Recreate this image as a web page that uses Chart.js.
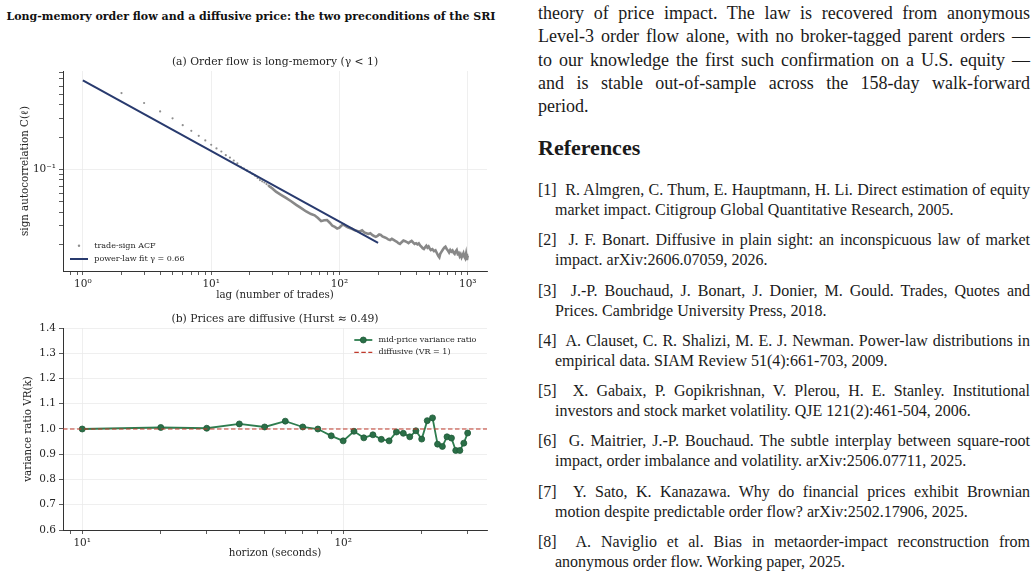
<!DOCTYPE html>
<html>
<head>
<meta charset="utf-8">
<script src="https://cdn.jsdelivr.net/npm/chart.js@4.4.1/dist/chart.umd.min.js"></script>
<style>
    html, body { margin: 0; padding: 0; background: #fff; }
    body { width: 1036px; height: 580px; position: relative; overflow: hidden; }
    #figTitle { position: absolute; left: 0; top: 9.5px; width: 502px; text-align: center;
        font: bold 11px/13px "DejaVu Serif", serif; color: #111; white-space: nowrap; }
    #cA { position: absolute; left: 0; top: 0; }
    #cB { position: absolute; left: 0; top: 300px; }
    #col { position: absolute; left: 538px; top: 2px; width: 492px;
        font-family: "Liberation Serif", "Times New Roman", serif; color: #1a1a1a; }
    .pl { font-size: 18px; line-height: 23.35px; height: 23.35px;
        text-align: justify; text-align-last: justify; }
    .pl.last { text-align-last: left; }
    h2 { position: absolute; left: 0; top: 133px; margin: 0; font-size: 22px; line-height: 26px; font-weight: bold; }
    #refs { position: absolute; left: 0; top: 178px; width: 492px; }
    .ref { font-size: 16px; line-height: 20px; margin-bottom: 10.3px; }
    .ref .a { text-align: justify; text-align-last: justify; height: 20px; }
    .ref .b { padding-left: 17px; height: 20px; }
</style>
</head>
<body>
<div id="figTitle">Long-memory order flow and a diffusive price: the two preconditions of the SRI</div>
<canvas id="cA" width="520" height="305"></canvas>
<canvas id="cB" width="520" height="280"></canvas>

<div id="col">
    <div class="pl">theory of price impact. The law is recovered from anonymous</div>
    <div class="pl">Level-3 order flow alone, with no broker-tagged parent orders —</div>
    <div class="pl">to our knowledge the first such confirmation on a U.S. equity —</div>
    <div class="pl">and is stable out-of-sample across the 158-day walk-forward</div>
    <div class="pl last">period.</div>
    <h2>References</h2>
    <div id="refs">
        <div class="ref"><div class="a">[1]&nbsp; R. Almgren, C. Thum, E. Hauptmann, H. Li. Direct estimation of equity</div><div class="b">market impact. Citigroup Global Quantitative Research, 2005.</div></div>
        <div class="ref"><div class="a">[2]&nbsp; J. F. Bonart. Diffusive in plain sight: an inconspicuous law of market</div><div class="b">impact. arXiv:2606.07059, 2026.</div></div>
        <div class="ref"><div class="a">[3]&nbsp; J.-P. Bouchaud, J. Bonart, J. Donier, M. Gould. Trades, Quotes and</div><div class="b">Prices. Cambridge University Press, 2018.</div></div>
        <div class="ref"><div class="a">[4]&nbsp; A. Clauset, C. R. Shalizi, M. E. J. Newman. Power-law distributions in</div><div class="b">empirical data. SIAM Review 51(4):661-703, 2009.</div></div>
        <div class="ref"><div class="a">[5]&nbsp; X. Gabaix, P. Gopikrishnan, V. Plerou, H. E. Stanley. Institutional</div><div class="b">investors and stock market volatility. QJE 121(2):461-504, 2006.</div></div>
        <div class="ref"><div class="a">[6]&nbsp; G. Maitrier, J.-P. Bouchaud. The subtle interplay between square-root</div><div class="b">impact, order imbalance and volatility. arXiv:2506.07711, 2025.</div></div>
        <div class="ref"><div class="a">[7]&nbsp; Y. Sato, K. Kanazawa. Why do financial prices exhibit Brownian</div><div class="b">motion despite predictable order flow? arXiv:2502.17906, 2025.</div></div>
        <div class="ref"><div class="a">[8]&nbsp; A. Naviglio et al. Bias in metaorder-impact reconstruction from</div><div class="b">anonymous order flow. Working paper, 2025.</div></div>
    </div>
</div>

<script>
// (a) trade-sign autocorrelation, short lags drawn as separate dots
const lagDots = [2, 3, 4, 5, 6, 7, 8, 9, 10, 11, 12, 13, 14, 15, 16, 17, 18, 19, 20, 21, 22, 23, 24, 25, 26, 27, 28, 29];
const acfDots = [0.516, 0.417, 0.348, 0.300, 0.259, 0.2295, 0.206, 0.1866, 0.170, 0.157, 0.147, 0.136, 0.129, 0.121,
    0.114, 0.106, 0.102, 0.098, 0.0945, 0.0908, 0.0875, 0.0832, 0.0795, 0.0774, 0.0755, 0.073, 0.0705, 0.0685];

// longer lags, where the dots merge into a noisy band
const lagDense = [28, 30, 32, 35, 38, 42, 46, 50, 55, 60, 64, 68, 72, 76, 80, 84, 88, 92, 96, 100, 104, 108, 112, 116, 120,
    126, 132, 138, 144, 150, 156, 162, 168, 174, 180, 186, 192, 198, 204, 210, 216, 224, 232, 240, 248, 256, 264, 272, 280,
    288, 296, 305, 315, 325, 335, 345, 355, 365, 375, 385, 395, 405, 415, 425, 435, 445, 455, 465, 475, 485, 495, 505, 515,
    530, 545, 560, 575, 590, 600, 610, 625, 640, 655, 670, 685, 700, 715, 730, 745, 760, 775, 790, 805, 820, 835, 850, 865,
    880, 895, 910, 925, 940, 955, 970, 985, 1000];
const acfDense = [0.0705, 0.0665, 0.062, 0.058, 0.0545, 0.0505, 0.0467, 0.0438, 0.0405, 0.0383, 0.0373, 0.0352, 0.0329,
    0.0335, 0.0337, 0.0318, 0.0298, 0.0291, 0.0281, 0.0286, 0.0301, 0.0305, 0.0295, 0.0288, 0.0284, 0.0278, 0.0270, 0.0266,
    0.0264, 0.0270, 0.0258, 0.0254, 0.0250, 0.0254, 0.0245, 0.0239, 0.0235, 0.0240, 0.0247, 0.0245, 0.0237, 0.0233, 0.0229,
    0.0222, 0.0219, 0.0225, 0.0220, 0.0215, 0.0211, 0.0205, 0.0202, 0.0209, 0.0217, 0.0214, 0.0210, 0.0205, 0.0211, 0.0215,
    0.0208, 0.0202, 0.0205, 0.0200, 0.0204, 0.0195, 0.0190, 0.0184, 0.0181, 0.0188, 0.0194, 0.0186, 0.0191, 0.0183, 0.0177,
    0.0180, 0.0173, 0.0176, 0.0165, 0.0155, 0.0151, 0.0163, 0.0171, 0.0179, 0.0186, 0.0190, 0.0181, 0.0175, 0.0168, 0.0177,
    0.0171, 0.0175, 0.0167, 0.0163, 0.0172, 0.0177, 0.0163, 0.0166, 0.0155, 0.0161, 0.0151, 0.0158, 0.0165, 0.0153, 0.0148,
    0.0163, 0.0143, 0.0157];

// power-law fit end points
const fitLag = [1, 200];
const fitC = [0.679, 0.0206];

const lagTicks = [0.8, 0.9, 1, 2, 3, 4, 5, 6, 7, 8, 9, 10, 20, 30, 40, 50, 60, 70, 80, 90, 100, 200, 300, 400, 500, 600, 700, 800, 900, 1000];
const lagLabels = { 1: '10⁰', 10: '10¹', 100: '10²', 1000: '10³' };
const acfTicks = [0.02, 0.03, 0.04, 0.05, 0.06, 0.07, 0.08, 0.09, 0.1, 0.2, 0.3, 0.4, 0.5, 0.6, 0.7, 0.8];
const acfLabels = { 0.1: '10⁻¹' };

// (b) variance ratio by horizon
const horizon = [10, 20, 30, 40, 50, 60, 70, 80, 90, 100, 110, 120, 130, 140, 150, 160, 170, 180, 190, 200,
    210, 220, 230, 240, 250, 260, 270, 280, 290, 300];
const varRatio = [1.000, 1.006, 1.003, 1.020, 1.008, 1.031, 1.008, 1.000, 0.973, 0.953, 0.991, 0.965, 0.977, 0.959,
    0.953, 0.988, 0.983, 0.969, 0.993, 0.960, 1.033, 1.044, 0.940, 0.931, 0.969, 0.964, 0.915, 0.915, 0.944, 0.984];

const horizonTicks = [9, 10, 20, 30, 40, 50, 60, 70, 80, 90, 100, 200, 300];
const horizonLabels = { 10: '10¹', 100: '10²' };
const vrTicks = [0.6, 0.7, 0.8, 0.9, 1.0, 1.1, 1.2, 1.3, 1.4];
const vrLabels = { 0.6: '0.6', 0.7: '0.7', 0.8: '0.8', 0.9: '0.9', 1: '1.0', 1.1: '1.1', 1.2: '1.2', 1.3: '1.3', 1.4: '1.4' };

const SERIF = '"DejaVu Serif", serif';
const GRID = '#ebebeb';
const INK = '#262626';
const TICK_SIZE = 10.5;
const LABEL_SIZE = 10.3;

function pairs(xs, ys) {
    return xs.map(function (x, i) { return { x: x, y: ys[i] }; });
}

function labelFor(map, v) {
    for (const k in map) {
        if (Math.abs(v - Number(k)) < 1e-9 * Number(k) + 1e-12) return map[k];
    }
    return null;
}

// one axis in the matplotlib look: fixed tick list, grid only where labelled
function axis(opts) {
    const horizontal = opts.pos === 'x';
    return {
        type: opts.type,
        min: opts.min,
        max: opts.max,
        afterBuildTicks: function (scale) {
            scale.ticks = opts.ticks.map(function (v) { return { value: v }; });
        },
        afterFit: function (scale) {
            if (horizontal) scale.height = opts.size; else scale.width = opts.size;
        },
        border: { display: true, color: '#333', width: 1 },
        grid: {
            color: function (c) {
                if (!c.tick) return 'rgba(0,0,0,0)';
                return labelFor(opts.labels, c.tick.value) !== null ? GRID : 'rgba(0,0,0,0)';
            },
            lineWidth: 0.8,
            tickColor: '#333',
            tickLength: 4,
            tickWidth: 0.8
        },
        ticks: {
            autoSkip: false,
            maxRotation: 0,
            minRotation: 0,
            padding: 3,
            color: INK,
            font: { family: SERIF, size: TICK_SIZE },
            callback: function (v) {
                const l = labelFor(opts.labels, v);
                return l === null ? '' : l;
            }
        },
        title: {
            display: true,
            text: opts.title,
            color: INK,
            font: { family: SERIF, size: LABEL_SIZE },
            padding: horizontal ? { top: 0, bottom: opts.titleGap } : { top: opts.titleGap, bottom: 0 }
        }
    };
}

// panel title and a small legend drawn inside the axes
const panelText = {
    id: 'panelText',
    afterDraw: function (chart, args, o) {
        const ctx = chart.ctx;
        const a = chart.chartArea;
        ctx.save();
        ctx.fillStyle = INK;
        ctx.font = '10.8px ' + SERIF;
        ctx.textAlign = 'center';
        ctx.textBaseline = 'middle';
        ctx.fillText(o.title, (a.left + a.right) / 2, a.top - 8.5);

        ctx.font = '8px ' + SERIF;
        ctx.textAlign = 'left';
        o.legend.forEach(function (it) {
            const ds = chart.data.datasets[it.ds];
            const x0 = a.left + it.x;
            const y = a.top + it.y;
            if (it.kind === 'dot') {
                ctx.fillStyle = ds.pointBackgroundColor;
                ctx.beginPath();
                ctx.arc(x0 + 9, y, 1.2, 0, Math.PI * 2);
                ctx.fill();
            } else {
                ctx.strokeStyle = ds.borderColor;
                ctx.lineWidth = ds.borderWidth;
                ctx.setLineDash(ds.borderDash || []);
                ctx.beginPath();
                ctx.moveTo(x0, y);
                ctx.lineTo(x0 + 18, y);
                ctx.stroke();
                ctx.setLineDash([]);
                if (it.marker) {
                    ctx.fillStyle = ds.pointBackgroundColor;
                    ctx.strokeStyle = ds.pointBorderColor;
                    ctx.lineWidth = 0.8;
                    ctx.beginPath();
                    ctx.arc(x0 + 9, y, 3, 0, Math.PI * 2);
                    ctx.fill();
                    ctx.stroke();
                }
            }
            ctx.fillStyle = INK;
            ctx.fillText(it.text, x0 + 24.3, y);
        });
        ctx.restore();
    }
};

new Chart(document.getElementById('cA').getContext('2d'), {
    type: 'scatter',
    data: {
        datasets: [
            {
                label: 'power-law fit',
                data: pairs(fitLag, fitC),
                showLine: true,
                borderColor: '#283a6e',
                borderWidth: 2,
                pointRadius: 0,
                order: 0
            },
            {
                label: 'trade-sign ACF',
                data: pairs(lagDots, acfDots),
                showLine: false,
                pointRadius: 1.1,
                pointBorderWidth: 0,
                pointBackgroundColor: '#8f8f8f',
                order: 1
            },
            {
                label: 'trade-sign ACF (dense)',
                data: pairs(lagDense, acfDense),
                showLine: true,
                borderColor: '#888888',
                borderWidth: 2.6,
                pointRadius: 0,
                order: 2
            }
        ]
    },
    options: {
        responsive: false,
        animation: false,
        layout: { padding: { left: 0, right: 33, top: 71, bottom: 0 } },
        plugins: {
            legend: { display: false },
            tooltip: { enabled: false },
            panelText: {
                title: '(a) Order flow is long-memory (γ < 1)',
                legend: [
                    { ds: 1, kind: 'dot', x: 7, y: 174.7, text: 'trade-sign ACF' },
                    { ds: 0, kind: 'line', x: 7, y: 188, text: 'power-law fit γ = 0.66' }
                ]
            }
        },
        scales: {
            x: axis({ pos: 'x', type: 'logarithmic', min: 0.708, max: 1412, ticks: lagTicks, labels: lagLabels,
                size: 34, title: 'lag (number of trades)', titleGap: 3 }),
            y: axis({ pos: 'y', type: 'logarithmic', min: 0.01127, max: 0.83, ticks: acfTicks, labels: acfLabels,
                size: 63, title: 'sign autocorrelation C(ℓ)', titleGap: 19.5 })
        }
    },
    plugins: [panelText]
});

const hMin = 8.44, hMax = 355.8;

new Chart(document.getElementById('cB').getContext('2d'), {
    type: 'scatter',
    data: {
        datasets: [
            {
                label: 'mid-price variance ratio',
                data: pairs(horizon, varRatio),
                showLine: true,
                borderColor: '#2e7d4f',
                borderWidth: 1.8,
                pointRadius: 3,
                pointBorderWidth: 0.8,
                pointBackgroundColor: '#2a6f47',
                pointBorderColor: '#1f5a38',
                order: 1
            },
            {
                label: 'diffusive (VR = 1)',
                data: pairs([hMin, hMax], [1, 1]),
                showLine: true,
                borderColor: '#c0392b',
                borderWidth: 1.2,
                borderDash: [4.5, 2.5],
                pointRadius: 0,
                order: 0
            }
        ]
    },
    options: {
        responsive: false,
        animation: false,
        layout: { padding: { left: 0, right: 33, top: 28, bottom: 17 } },
        plugins: {
            legend: { display: false },
            tooltip: { enabled: false },
            panelText: {
                title: '(b) Prices are diffusive (Hurst ≈ 0.49)',
                legend: [
                    { ds: 0, kind: 'line', marker: true, x: 291.3, y: 12, text: 'mid-price variance ratio' },
                    { ds: 1, kind: 'line', x: 291.3, y: 24.3, text: 'diffusive (VR = 1)' }
                ]
            }
        },
        scales: {
            x: axis({ pos: 'x', type: 'logarithmic', min: hMin, max: hMax, ticks: horizonTicks, labels: horizonLabels,
                size: 33, title: 'horizon (seconds)', titleGap: 3 }),
            y: axis({ pos: 'y', type: 'linear', min: 0.6, max: 1.4, ticks: vrTicks, labels: vrLabels,
                size: 63, title: 'variance ratio VR(k)', titleGap: 22 })
        }
    },
    plugins: [panelText]
});
</script>
</body>
</html>
